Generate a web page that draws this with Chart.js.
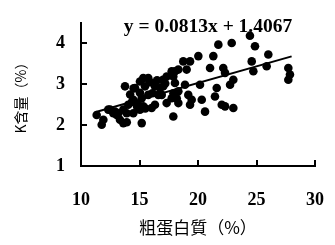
<!DOCTYPE html>
<html>
<head>
<meta charset="utf-8">
<script src="https://cdn.jsdelivr.net/npm/chart.js@4/dist/chart.umd.min.js"></script>
<style>
html,body{margin:0;padding:0;background:#fff;}
#wrap{width:335px;height:245px;position:relative;}
</style>
</head>
<body>
<div id="wrap"><canvas id="c" width="335" height="245"></canvas></div>
<script>
// Data
const proteinX = [11.34,11.77,11.91,12.33,12.48,12.76,12.91,13.05,13.19,13.33,13.62,13.91,13.91,13.62,13.76,14.04,14.47,14.47,14.62,15.04,
  15.04,15.19,15.32,15.32,15.04,15.47,15.75,15.75,15.19,14.90,15.32,16.04,16.32,16.32,16.61,17.03,17.01,17.32,17.32,17.75,
  17.75,18.03,18.32,18.32,18.32,17.89,18.74,18.89,19.17,19.32,19.03,19.46,19.32,20.03,20.17,20.32,20.60,21.03,21.31,21.74,
  21.60,21.45,22.03,22.31,23.02,22.16,22.31,23.02,22.74,22.88,24.44,24.87,24.59,24.73,25.87,26.01,27.72,27.86,27.72,16.75,
  18.18,17.89,18.03,17.2,14.5,16.1,16.9,17.9,14.36,14.8,15.5,15.9,16.5,14.2];
const kContent = [2.25,2.01,2.13,2.38,2.38,2.29,2.33,2.25,2.29,2.13,2.38,2.07,2.29,2.05,2.95,2.50,2.62,2.29,2.91,2.79,
  2.38,2.05,2.46,3.15,3.07,2.95,3.15,2.74,2.66,2.50,2.42,2.42,2.50,2.95,2.74,2.95,3.11,3.19,2.54,3.32,
  2.66,3.03,3.36,2.83,2.54,2.21,3.56,2.99,2.74,3.56,3.36,2.62,2.50,3.69,2.99,2.62,2.33,3.40,3.69,3.97,
  2.91,2.70,2.50,2.46,2.42,3.40,3.28,3.11,2.99,4.01,4.19,3.93,3.56,3.32,3.44,3.73,3.40,3.24,3.11,2.91,
  2.66,3.19,3.32,3.02,2.90,2.78,2.74,2.78,2.57,2.45,2.41,3.05,3.10,2.75];
const trendX = [11.2, 28.0];
const trendY = [2.317, 3.683];
const xTickValues = [10, 15, 20, 25, 30];
const yTickValues = [1, 2, 3, 4];
const equationText = 'y = 0.0813x + 1.4067';
const xTitle = '粗蛋白質（%）';
const yTitle = 'K含量（%）';

const points = proteinX.map((x, i) => ({x: x, y: kContent[i]}));
const trend = trendX.map((x, i) => ({x: x, y: trendY[i]}));

const innerTicks = {
  id: 'innerTicks',
  afterDraw(chart) {
    const ctx = chart.ctx, a = chart.chartArea;
    const xs = chart.scales.x, ys = chart.scales.y;
    ctx.save();
    ctx.strokeStyle = '#000';
    ctx.lineWidth = 2;
    ctx.beginPath();
    yTickValues.slice(1).forEach(v => {
      const p = Math.round(ys.getPixelForValue(v));
      ctx.moveTo(a.left, p); ctx.lineTo(a.left + 6, p);
    });
    xTickValues.slice(1).forEach(v => {
      const p = Math.round(xs.getPixelForValue(v));
      ctx.moveTo(p, a.bottom); ctx.lineTo(p, a.bottom - 6);
    });
    ctx.stroke();
    ctx.font = 'bold 19.5px "Liberation Serif", "Times New Roman", serif';
    ctx.fillStyle = '#000';
    ctx.textAlign = 'center';
    ctx.textBaseline = 'middle';
    ctx.fillText(equationText, 208, 27);
    ctx.restore();
  }
};

new Chart(document.getElementById('c'), {
  type: 'scatter',
  data: {
    datasets: [
      {
        type: 'line',
        data: trend,
        borderColor: '#000',
        borderWidth: 2,
        pointRadius: 0,
        fill: false,
        order: 0
      },
      {
        data: points,
        backgroundColor: '#000',
        borderWidth: 0,
        pointRadius: 4.3,
        order: 1
      }
    ]
  },
  options: {
    responsive: false,
    animation: false,
    devicePixelRatio: 1,
    layout: {padding: {top: 23, right: 20, bottom: 0, left: 0}},
    plugins: {legend: {display: false}, tooltip: {enabled: false}},
    scales: {
      x: {
        type: 'linear',
        min: 10, max: 30,
        afterBuildTicks: s => { s.ticks = xTickValues.map(v => ({value: v})); },
        afterFit: s => { s.height = 79; s.paddingLeft = 0; s.paddingRight = 0; },
        grid: {display: false, drawTicks: false},
        border: {display: true, color: '#000', width: 2},
        ticks: {
          color: '#000', padding: 24,
          font: {family: '"Liberation Serif", "Times New Roman", serif', size: 18, weight: 'bold'}
        },
        title: {
          display: true, text: xTitle, color: '#000',
          font: {family: '"Noto Sans CJK TC", "Noto Sans CJK JP", sans-serif', size: 17},
          padding: {top: 0, bottom: 7}
        }
      },
      y: {
        type: 'linear',
        min: 1, max: 4.5,
        afterBuildTicks: s => { s.ticks = yTickValues.map(v => ({value: v})); },
        afterFit: s => { s.width = 81; s.paddingTop = 0; s.paddingBottom = 0; },
        grid: {display: false, drawTicks: false},
        border: {display: true, color: '#000', width: 2},
        ticks: {
          color: '#000', padding: 16,
          font: {family: '"Liberation Serif", "Times New Roman", serif', size: 18, weight: 'bold'}
        },
        title: {
          display: true, text: yTitle, color: '#000',
          font: {family: '"Noto Sans CJK TC", "Noto Sans CJK JP", sans-serif', size: 14},
          padding: {top: 12, bottom: 12}
        }
      }
    }
  },
  plugins: [innerTicks]
});
</script>
</body>
</html>
